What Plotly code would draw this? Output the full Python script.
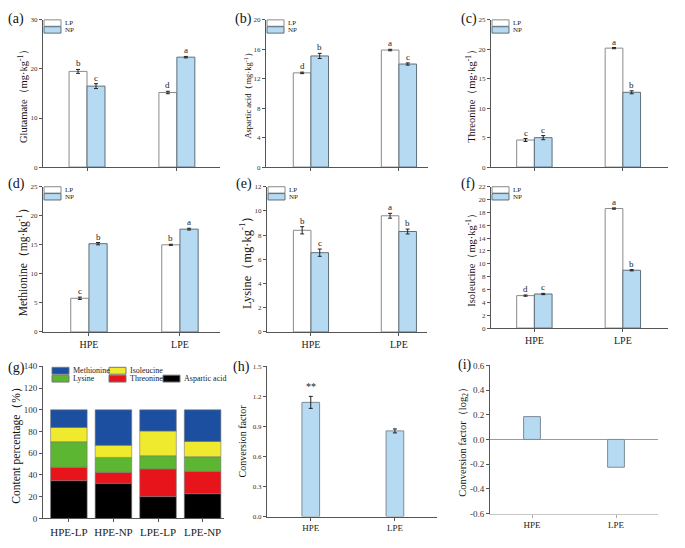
import plotly.graph_objects as go

# ---- data ----
groups = ["HPE", "LPE"]
treatments = ["LP", "NP"]

glutamate_lp = [19.5, 15.2]
glutamate_np = [16.5, 22.4]
glutamate_lp_err = [0.4, 0.25]
glutamate_np_err = [0.5, 0.15]
glutamate_letters = [["b", "d"], ["c", "a"]]

aspartic_lp = [12.8, 15.9]
aspartic_np = [15.1, 14.0]
aspartic_lp_err = [0.1, 0.1]
aspartic_np_err = [0.35, 0.15]
aspartic_letters = [["d", "a"], ["b", "c"]]

threonine_lp = [4.6, 20.2]
threonine_np = [5.0, 12.7]
threonine_lp_err = [0.25, 0.1]
threonine_np_err = [0.35, 0.25]
threonine_letters = [["c", "a"], ["c", "b"]]

methionine_lp = [5.8, 15.0]
methionine_np = [15.2, 17.7]
methionine_lp_err = [0.2, 0.1]
methionine_np_err = [0.2, 0.15]
methionine_letters = [["c", "b"], ["b", "a"]]

lysine_lp = [8.4, 9.6]
lysine_np = [6.55, 8.3]
lysine_lp_err = [0.3, 0.2]
lysine_np_err = [0.3, 0.2]
lysine_letters = [["b", "a"], ["c", "b"]]

isoleucine_lp = [5.05, 18.6]
isoleucine_np = [5.3, 9.0]
isoleucine_lp_err = [0.1, 0.1]
isoleucine_np_err = [0.1, 0.1]
isoleucine_letters = [["d", "a"], ["c", "b"]]

# (g) composition, bottom to top
samples = ["HPE-LP", "HPE-NP", "LPE-LP", "LPE-NP"]
pct_aspartic = [34.8, 32.4, 20.1, 22.8]
pct_threonine = [12.3, 10.2, 25.5, 20.7]
pct_lysine = [23.5, 13.6, 12.1, 13.3]
pct_isoleucine = [13.2, 11.1, 22.8, 14.1]
pct_methionine = [16.2, 32.7, 19.5, 29.1]

# (h), (i)
conv_factor = [1.14, 0.855]
conv_factor_err = [0.06, 0.02]
conv_log2 = [0.185, -0.225]

# page has an 8px body margin, so the figure is a bit smaller and positions are shifted
PAD = 8
W, H = 685 - PAD, 548 - PAD
FONT = "Liberation Serif"
BLUE = "#b5daf2"
AX = "#555555"


def fx(px):
    return (px - PAD) / W


def fy(py):
    return 1 - (py - PAD) / H


def px_dom(x0, x1):
    return [fx(x0), fx(x1)]


def py_dom(top, bottom):
    return [fy(bottom), fy(top)]


fig = go.Figure()
annotations = []
shapes = []
layout_axes = {}


def legend_key(x, y, w, h, fill, line, label, size):
    # hand-drawn legend swatch (flat rectangle) + label
    shapes.append(dict(type="rect", xref="paper", yref="paper",
                       x0=fx(x), x1=fx(x + w), y0=fy(y + h), y1=fy(y),
                       fillcolor=fill, line=dict(color=line, width=1)))
    annotations.append(dict(x=fx(x + w + 2), y=fy(y + h / 2), xref="paper", yref="paper",
                            text=label, showarrow=False, xanchor="left", yanchor="middle",
                            font=dict(family=FONT, size=size, color="#222")))


def axis_common():
    return dict(showline=True, linecolor=AX, linewidth=1, ticks="outside", ticklen=3,
                tickcolor=AX, showgrid=False, zeroline=False)


bar_panels = [
    ("Glutamate（mg·kg<sup>-1</sup>）", 10.5, glutamate_lp, glutamate_np, glutamate_lp_err, glutamate_np_err,
     glutamate_letters, 30, 10, (43, 220, 15, 165), [-0.49, 1.48], False),
    ("Aspartic acid（mg·kg<sup>-1</sup>）", 8.5, aspartic_lp, aspartic_np, aspartic_lp_err, aspartic_np_err,
     aspartic_letters, 20, 4, (266, 428, 15, 165), [-0.51, 1.33], False),
    ("Threonine（mg·kg<sup>-1</sup>）", 10.5, threonine_lp, threonine_np, threonine_lp_err, threonine_np_err,
     threonine_letters, 25, 5, (491, 668, 15, 165), [-0.49, 1.51], False),
    ("Methionine（mg·kg<sup>-1</sup>）", 11.5, methionine_lp, methionine_np, methionine_lp_err, methionine_np_err,
     methionine_letters, 25, 5, (43, 220, 185, 333), [-0.505, 1.44], True),
    ("Lysine（mg·kg<sup>-1</sup>）", 12.5, lysine_lp, lysine_np, lysine_lp_err, lysine_np_err,
     lysine_letters, 12, 2, (267, 427, 185, 333), [-0.5, 1.32], True),
    ("Isoleucine（mg·kg<sup>-1</sup>）", 10.5, isoleucine_lp, isoleucine_np, isoleucine_lp_err, isoleucine_np_err,
     isoleucine_letters, 22, 2, (491, 668, 185, 329), [-0.49, 1.51], True),
]

BAR_W = 0.2
for i, (ytitle, tsize, lp, np_, lp_err, np_err, letters, ymax, dtick, box, xr, show_x) in enumerate(bar_panels):
    n = i + 1
    xa, ya = ("x" if n == 1 else f"x{n}"), ("y" if n == 1 else f"y{n}")
    x0, x1, t, b = box
    pos = list(range(len(groups)))
    for k, (vals, errs, fill, line, name) in enumerate([
        (lp, lp_err, "white", "#8a8a8a", treatments[0]),
        (np_, np_err, BLUE, "#5f6f7a", treatments[1]),
    ]):
        fig.add_trace(go.Bar(
            x=pos, y=vals, name=name, width=BAR_W, xaxis=xa, yaxis=ya, showlegend=False,
            marker=dict(color=fill, line=dict(color=line, width=1)),
            error_y=dict(type="data", array=errs, color="#222", thickness=1, width=2),
        ))
        legend_key(x0 + 1, t + 7 * k, 17, 6.5, fill, line, name, 7)
        off = -BAR_W / 2 if k == 0 else BAR_W / 2
        for j in pos:
            annotations.append(dict(
                x=j + off, y=vals[j] + errs[j], xref=xa, yref=ya, text=letters[k][j],
                showarrow=False, yanchor="bottom", yshift=-1,
                font=dict(family=FONT, size=9, color="#222"),
            ))
    xkey = "xaxis" if n == 1 else f"xaxis{n}"
    ykey = "yaxis" if n == 1 else f"yaxis{n}"
    layout_axes[xkey] = dict(axis_common(), domain=px_dom(x0, x1), anchor=ya, range=xr,
                             tickvals=pos, ticktext=groups, showticklabels=show_x,
                             tickfont=dict(family=FONT, size=10, color="#222"))
    layout_axes[ykey] = dict(axis_common(), domain=py_dom(t, b), anchor=xa, range=[0, ymax],
                             dtick=dtick, tick0=0,
                             tickfont=dict(family=FONT, size=7, color="#333"),
                             title=dict(text=ytitle, font=dict(family=FONT, size=tsize, color="#111"), standoff=0))

# ---- (g) stacked composition ----
stack = [
    ("Aspartic acid", pct_aspartic, "#000000"),
    ("Threonine", pct_threonine, "#e8141c"),
    ("Lysine", pct_lysine, "#5cb631"),
    ("Isoleucine", pct_isoleucine, "#f0ea2e"),
    ("Methionine", pct_methionine, "#1c4f9f"),
]
g_legend_pos = {"Methionine": (52, 369), "Isoleucine": (109, 369),
                "Lysine": (52, 377), "Threonine": (109, 377), "Aspartic acid": (163, 377)}
base = [0.0] * len(samples)
for name, vals, col in stack:
    fig.add_trace(go.Bar(
        x=list(range(len(samples))), y=vals, base=base, name=name, width=0.82,
        offsetgroup="g", xaxis="x7", yaxis="y7", showlegend=False,
        marker=dict(color=col, line=dict(color="#777", width=0.6)),
    ))
    base = [bb + v for bb, v in zip(base, vals)]
for name, vals, col in stack:
    lx, ly = g_legend_pos[name]
    legend_key(lx, ly, 17, 7, col, "#777", name, 8)

layout_axes["xaxis7"] = dict(axis_common(), domain=px_dom(43, 224), anchor="y7", range=[-0.58, 3.48],
                             tickvals=list(range(len(samples))), ticktext=samples,
                             tickfont=dict(family=FONT, size=11, color="#222"))
layout_axes["yaxis7"] = dict(axis_common(), domain=py_dom(368, 523), anchor="x7", range=[0, 140],
                             dtick=20, tickfont=dict(family=FONT, size=9, color="#333"),
                             title=dict(text="Content percentage（%）", font=dict(family=FONT, size=11.5, color="#111"),
                                        standoff=0))

# ---- (h) conversion factor ----
fig.add_trace(go.Bar(
    x=[0, 1], y=conv_factor, width=0.21, xaxis="x8", yaxis="y8", showlegend=False,
    marker=dict(color=BLUE, line=dict(color="#7d8c96", width=1)),
    error_y=dict(type="data", array=conv_factor_err, color="#222", thickness=1, width=2),
))
annotations.append(dict(x=0, y=conv_factor[0] + conv_factor_err[0], xref="x8", yref="y8", text="**",
                        showarrow=False, yanchor="bottom", yshift=2,
                        font=dict(family=FONT, size=10, color="#222")))
layout_axes["xaxis8"] = dict(axis_common(), domain=px_dom(267, 437), anchor="y8", range=[-0.52, 1.5],
                             tickvals=[0, 1], ticktext=groups,
                             tickfont=dict(family=FONT, size=9, color="#222"))
layout_axes["yaxis8"] = dict(axis_common(), domain=py_dom(368, 521), anchor="x8", range=[0, 1.5],
                             dtick=0.3, tickformat=".1f", tickfont=dict(family=FONT, size=7, color="#333"),
                             title=dict(text="Conversion factor", font=dict(family=FONT, size=10, color="#111"),
                                        standoff=4))

# ---- (i) log2 conversion factor ----
fig.add_trace(go.Bar(
    x=[0, 1], y=conv_log2, width=0.2, xaxis="x9", yaxis="y9", showlegend=False,
    marker=dict(color=BLUE, line=dict(color="#7d8c96", width=1)),
))
i_ticks = [-0.6, -0.4, -0.2, 0.0, 0.2, 0.4, 0.6]
layout_axes["xaxis9"] = dict(axis_common(), domain=px_dom(490, 658), anchor="y9", range=[-0.5, 1.5],
                             tickvals=[0, 1], ticktext=groups, linecolor="#c8c8c8", tickcolor="#aaa",
                             tickfont=dict(family=FONT, size=9, color="#222"))
layout_axes["yaxis9"] = dict(axis_common(), domain=py_dom(367, 518), anchor="x9", range=[-0.6, 0.6],
                             tickvals=i_ticks, ticktext=[f"{v:.1f}" for v in i_ticks],
                             zeroline=True, zerolinecolor="#9a9a9a", zerolinewidth=1,
                             tickfont=dict(family=FONT, size=9, color="#333"),
                             title=dict(text="Conversion factor（log<sub>2</sub>）",
                                        font=dict(family=FONT, size=10.5, color="#111"), standoff=0))

# ---- panel labels ----
panel_labels = [("(a)", 6, 14), ("(b)", 233, 14), ("(c)", 459, 14),
                ("(d)", 6, 182), ("(e)", 234, 182), ("(f)", 459, 182),
                ("(g)", 6, 370), ("(h)", 231, 369), ("(i)", 456, 367)]
for txt, lx, ly in panel_labels:
    annotations.append(dict(x=fx(lx), y=fy(ly), xref="paper", yref="paper", text=txt,
                            showarrow=False, xanchor="left", yanchor="middle",
                            font=dict(family=FONT, size=14, color="#111")))

fig.update_layout(
    width=W, height=H, margin=dict(l=0, r=0, t=0, b=0),
    paper_bgcolor="white", plot_bgcolor="white",
    barmode="group", bargap=0.6, showlegend=False,
    font=dict(family=FONT, color="#222"),
    annotations=annotations, shapes=shapes,
    **layout_axes,
)

fig.write_html("out.html")
